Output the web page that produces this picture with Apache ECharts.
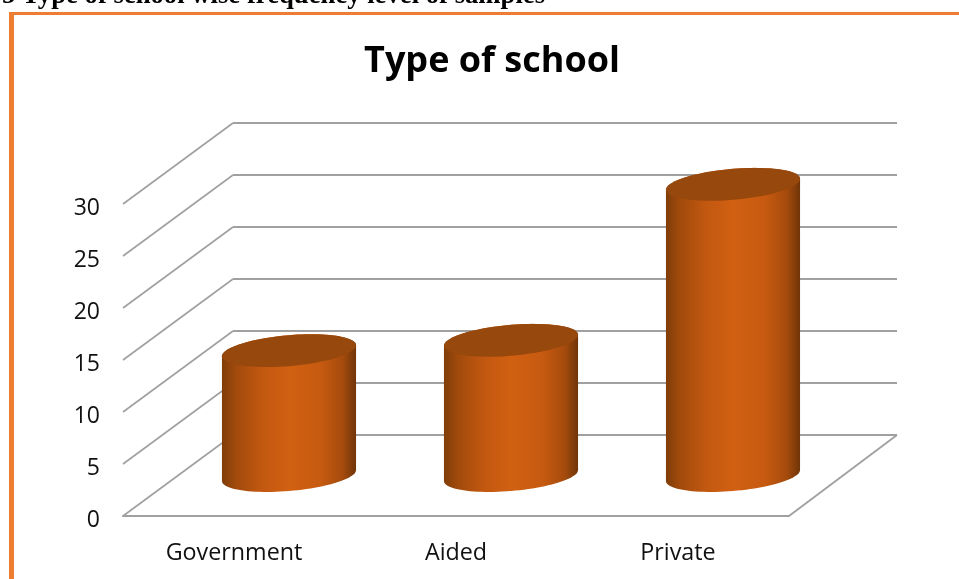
<!DOCTYPE html>
<html>
<head>
<meta charset="utf-8">
<style>html,body{margin:0;padding:0;background:#fff}#c{width:959px;height:579px}</style>
<script src="https://cdn.jsdelivr.net/npm/echarts@6/dist/echarts.min.js"></script>
</head>
<body>
<div id="c"></div>
<script>
var categories = ['Government', 'Aided', 'Private'];
var values = [12, 13, 28];
var yTicks = [0, 5, 10, 15, 20, 25, 30];
var chartTitle = 'Type of school';
var caption = '5 Type of school wise frequency level of samples';

var depthX = 110, depthY = -81;
var gridColor = '#a0a0a0';

function ellipsePoints(cx, cy, rx, ry, skew, from, to) {
  var pts = [], n = 48;
  for (var i = 0; i <= n; i++) {
    var t = from + (to - from) * i / n;
    pts.push([cx + rx * Math.cos(t), cy + ry * Math.sin(t) + skew * Math.cos(t)]);
  }
  return pts;
}

function renderWall(params, api) {
  var v = api.value(1);
  var band = api.size([1, 0])[0];
  var left = api.coord([0, v]);
  var right = api.coord([categories.length - 1, v]);
  var x0 = left[0] - band / 2, x1 = right[0] + band / 2, y = left[1];
  var children = [{
    type: 'line',
    shape: { x1: x0, y1: y, x2: x0 + depthX, y2: y + depthY },
    style: { stroke: gridColor, lineWidth: 1.6 }
  }, {
    type: 'line',
    shape: { x1: x0 + depthX, y1: y + depthY, x2: x1 + depthX - 2, y2: y + depthY },
    style: { stroke: gridColor, lineWidth: 2.2 }
  }];
  if (v === 0) {
    children.push({
      type: 'line',
      shape: { x1: x1, y1: y, x2: x1 + depthX - 2, y2: y + depthY },
      style: { stroke: gridColor, lineWidth: 1.8 }
    });
  }
  return { type: 'group', children: children };
}

function renderCylinder(params, api) {
  var base = api.coord([api.value(0), 0]);
  var top = api.coord([api.value(0), api.value(1)]);
  var band = api.size([1, 0])[0];
  var rx = band * 0.302, ry = 15.5, skew = -5.5;
  var cx = base[0] + depthX / 2;
  var by = base[1] + depthY / 2;
  var ty = top[1] + depthY / 2;
  var lower = ellipsePoints(cx, by, rx, ry, skew, 0, Math.PI);
  var upper = ellipsePoints(cx, ty, rx, ry, skew, Math.PI, 2 * Math.PI);
  var whole = ellipsePoints(cx, ty, rx, ry, skew, 0, 2 * Math.PI);
  return {
    type: 'group',
    children: [{
      type: 'polygon',
      shape: { points: upper.concat(lower) },
      style: {
        fill: new echarts.graphic.LinearGradient(0, 0, 1, 0, [
          { offset: 0, color: '#803d08' },
          { offset: 0.1, color: '#a04a0c' },
          { offset: 0.3, color: '#c25810' },
          { offset: 0.5, color: '#d16012' },
          { offset: 0.74, color: '#c65a10' },
          { offset: 0.9, color: '#a54b0d' },
          { offset: 1, color: '#703508' }
        ])
      }
    }, {
      type: 'polygon',
      shape: { points: whole },
      style: { fill: '#97480c' }
    }]
  };
}

var chart = echarts.init(document.getElementById('c'), null, { renderer: 'canvas' });
chart.setOption({
  animation: false,
  backgroundColor: '#fff',
  title: {
    text: chartTitle,
    left: 487,
    top: 39,
    textAlign: 'center',
    textStyle: { fontFamily: 'Open Sans', fontWeight: 'bold', fontSize: 36, color: '#000' }
  },
  grid: { left: 123, right: 170, top: 204, bottom: 63 },
  xAxis: {
    type: 'category',
    data: categories,
    axisLine: { show: true, lineStyle: { color: gridColor, width: 2.2 } },
    axisTick: { show: false },
    axisLabel: { margin: 26, fontFamily: 'Open Sans', fontSize: 23.3, color: '#111' }
  },
  yAxis: {
    type: 'value',
    min: 0,
    max: 30,
    interval: 5,
    axisLine: { show: false },
    axisTick: { show: false },
    splitLine: { show: false },
    axisLabel: { margin: 23, fontFamily: 'Open Sans', fontSize: 23, color: '#111', verticalAlign: 'top', lineHeight: 8 }
  },
  series: [{
    type: 'custom',
    name: 'walls',
    renderItem: renderWall,
    data: yTicks.map(function (v) { return [0, v]; }),
    z: 1,
    silent: true
  }, {
    type: 'custom',
    name: 'Type of school',
    renderItem: renderCylinder,
    data: values.map(function (v, i) { return [i, v]; }),
    z: 3
  }],
  graphic: [
    { type: 'rect', shape: { x: 9, y: 12, width: 950, height: 3 }, style: { fill: '#ed7d31' } },
    { type: 'rect', shape: { x: 9, y: 12, width: 5, height: 567 }, style: { fill: '#ed7d31' } },
    {
      type: 'text', x: 2, y: 10,
      style: {
        text: caption, fill: '#000', verticalAlign: 'bottom',
        font: 'bold 26.7px "Liberation Serif"'
      }
    }
  ]
});
</script>
</body>
</html>
